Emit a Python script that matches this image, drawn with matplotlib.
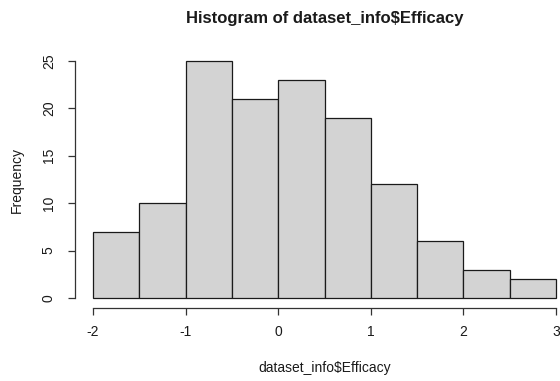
import matplotlib
matplotlib.use("Agg")
import matplotlib.pyplot as plt
import numpy as np

bin_edges = [-2.0, -1.5, -1.0, -0.5, 0.0, 0.5, 1.0, 1.5, 2.0, 2.5, 3.0]
counts = [7, 10, 25, 21, 23, 19, 12, 6, 3, 2]
x_ticks = [-2, -1, 0, 1, 2, 3]
y_ticks = [0, 5, 10, 15, 20, 25]
title = "Histogram of dataset_info$Efficacy"
xlabel = "dataset_info$Efficacy"
ylabel = "Frequency"

plt.rcParams['font.family'] = ['Liberation Sans', 'DejaVu Sans']

W, H = 560, 381
fig = plt.figure(figsize=(W / 100, H / 100), dpi=100)
fig.patch.set_facecolor('white')
left_px, right_px = 74.5, 574.5
top_px, bot_px = 51.5, 307.5
ax = fig.add_axes([left_px / W, 1 - bot_px / H, (right_px - left_px) / W, (bot_px - top_px) / H])

edges = np.array(bin_edges)
ax.bar(edges[:-1], counts, width=np.diff(edges), align='edge',
       color='#D3D3D3', edgecolor='#1a1a1a', linewidth=0.9)

ax.set_xlim(-2.2, 3.2)
ax.set_ylim(-1, 26)
for s in ['top', 'right']:
    ax.spines[s].set_visible(False)
ax.spines['left'].set_bounds(0, 25)
ax.spines['bottom'].set_bounds(-2, 3)
for s in ['left', 'bottom']:
    ax.spines[s].set_color('#333333')
    ax.spines[s].set_linewidth(0.9)

ax.set_xticks(x_ticks)
ax.set_xticklabels([str(t) for t in x_ticks])
ax.set_yticks(y_ticks)
ax.set_yticklabels([str(t) for t in y_ticks], rotation=90, va='center')
ax.tick_params(axis='both', direction='out', length=5.0, width=0.9, color='#333333',
               labelsize=10, labelcolor='#1a1a1a')
ax.tick_params(axis='x', pad=7.5)
ax.tick_params(axis='y', pad=8.5)

fig.text((left_px + right_px) / 2 / W, 1 - 19 / H, title, ha='center', va='center',
         fontsize=12, fontweight='bold', color='#1a1a1a')
fig.text((left_px + right_px) / 2 / W, 1 - 368 / H, xlabel, ha='center', va='center',
         fontsize=10, color='#1a1a1a')
fig.text(17 / W, 1 - 180 / H, ylabel, ha='center', va='center', rotation=90,
         fontsize=10, color='#1a1a1a')

fig.savefig("out.png", dpi=100)
